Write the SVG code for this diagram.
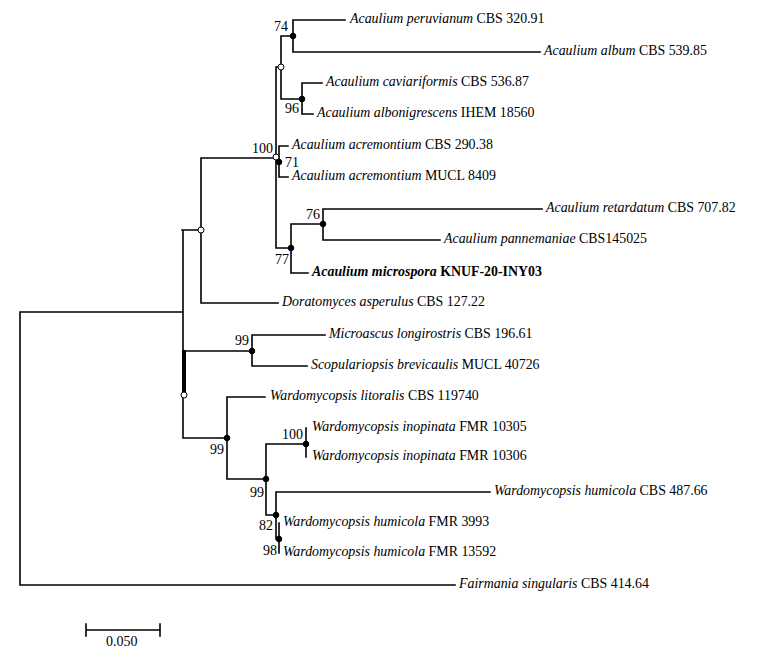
<svg xmlns="http://www.w3.org/2000/svg" width="762" height="657" viewBox="0 0 762 657">
<style>
.b{stroke:#000;stroke-width:1.6;fill:none;stroke-linecap:square}
text{font-family:"Liberation Serif","Times New Roman",serif;font-size:13.9px;fill:#000}
.t{dominant-baseline:middle}
.s{font-size:14px}
.e{text-anchor:end}
.i{font-style:italic}
.f{fill:#000;stroke:#000}
.o{fill:#fff;stroke:#000;stroke-width:1}
</style>
<rect width="762" height="657" fill="#fff"/>
<g id="connectors">
<path class="b" d="M20,312V585H455 M20,312H182 M183,230V438 M182,230H201 M201,158V303H278 M201,158H276 M276,67V248H291 M276,67H281 M281,36V99 M281,36H293 M293,20V52 M293,20H345 M293,52H540 M281,99H302 M302,83V114 M302,83H322 M302,114H313 M276,162H279 M279,146V177 M279,146H288 M279,177H288 M291,224V273H308 M291,224H323 M323,209V240 M323,209H542 M323,240H440 M183,351H252 M252,335V366 M252,335H325 M252,366H307 M183,438H227 M227,397V479 M227,397H265 M227,479H266 M266,444V515 M266,444H306 M306,428V457 M266,515H276 M276,492V539 M276,492H490 M276,539H279 M279,523V553 M86,630H160 M86,624V636 M160,624V636"/>
<rect x="182" y="350" width="4" height="45" fill="#000"/>
</g>
<g id="nodes">
<circle class="o" cx="201" cy="230" r="3"/>
<circle class="o" cx="276" cy="157" r="3"/>
<circle class="o" cx="281" cy="67" r="3"/>
<circle class="o" cx="184" cy="395" r="3"/>
<circle class="f" cx="293" cy="36" r="2.8"/>
<circle class="f" cx="302" cy="99" r="2.8"/>
<circle class="f" cx="279" cy="162" r="2.8"/>
<circle class="f" cx="291" cy="248" r="2.8"/>
<circle class="f" cx="323" cy="224" r="2.8"/>
<circle class="f" cx="252" cy="351" r="2.8"/>
<circle class="f" cx="227" cy="438" r="2.8"/>
<circle class="f" cx="266" cy="479" r="2.8"/>
<circle class="f" cx="306" cy="444" r="2.8"/>
<circle class="f" cx="276" cy="515" r="2.8"/>
<circle class="f" cx="279" cy="539" r="2.8"/>
</g>
<g id="support">
<text class="s e" x="288" y="31">74</text>
<text class="s e" x="299" y="113">96</text>
<text class="s e" x="273" y="153">100</text>
<text class="s" x="285" y="167">71</text>
<text class="s e" x="320" y="219">76</text>
<text class="s e" x="289" y="264">77</text>
<text class="s e" x="249" y="345">99</text>
<text class="s e" x="224" y="454">99</text>
<text class="s e" x="264" y="497">99</text>
<text class="s e" x="303" y="439">100</text>
<text class="s e" x="273" y="530">82</text>
<text class="s e" x="277" y="555">98</text>
<text class="s" x="106" y="646">0.050</text>
</g>
<g id="tips">
<text class="t" x="350" y="20"><tspan class="i">Acaulium peruvianum</tspan> CBS 320.91</text>
<text class="t" x="544" y="52"><tspan class="i">Acaulium album</tspan> CBS 539.85</text>
<text class="t" x="326" y="83"><tspan class="i">Acaulium caviariformis</tspan> CBS 536.87</text>
<text class="t" x="317" y="114"><tspan class="i">Acaulium albonigrescens</tspan> IHEM 18560</text>
<text class="t" x="292" y="146"><tspan class="i">Acaulium acremontium</tspan> CBS 290.38</text>
<text class="t" x="292" y="177"><tspan class="i">Acaulium acremontium</tspan> MUCL 8409</text>
<text class="t" x="546" y="209"><tspan class="i">Acaulium retardatum</tspan> CBS 707.82</text>
<text class="t" x="444" y="240"><tspan class="i">Acaulium pannemaniae</tspan> CBS145025</text>
<text class="t" x="312" y="273" font-weight="bold"><tspan class="i">Acaulium microspora</tspan> KNUF-20-INY03</text>
<text class="t" x="282" y="303"><tspan class="i">Doratomyces asperulus</tspan> CBS 127.22</text>
<text class="t" x="329" y="335"><tspan class="i">Microascus longirostris</tspan> CBS 196.61</text>
<text class="t" x="311" y="366"><tspan class="i">Scopulariopsis brevicaulis</tspan> MUCL 40726</text>
<text class="t" x="270" y="397"><tspan class="i">Wardomycopsis litoralis</tspan> CBS 119740</text>
<text class="t" x="312" y="428"><tspan class="i">Wardomycopsis inopinata</tspan> FMR 10305</text>
<text class="t" x="312" y="457"><tspan class="i">Wardomycopsis inopinata</tspan> FMR 10306</text>
<text class="t" x="494" y="492"><tspan class="i">Wardomycopsis humicola</tspan> CBS 487.66</text>
<text class="t" x="283" y="523"><tspan class="i">Wardomycopsis humicola</tspan> FMR 3993</text>
<text class="t" x="283" y="553"><tspan class="i">Wardomycopsis humicola</tspan> FMR 13592</text>
<text class="t" x="459" y="585"><tspan class="i">Fairmania singularis</tspan> CBS 414.64</text>
</g>
</svg>
